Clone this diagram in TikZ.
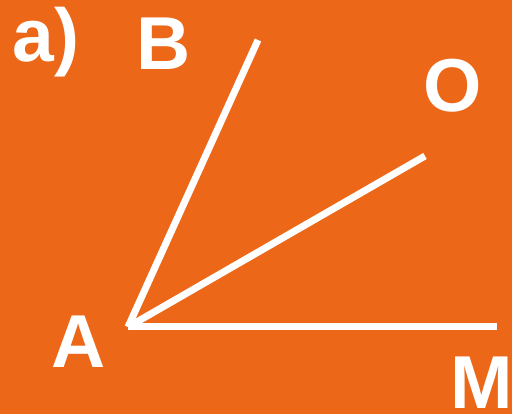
\documentclass[tikz,border=0pt]{standalone}
\usepackage{fontspec}
\setmainfont{Liberation Sans}
\definecolor{bgorange}{RGB}{236,103,23}
\begin{document}
\begin{tikzpicture}[x=1pt,y=-1pt,
  ray/.style={draw=white,line width=7pt},
  lbl/.style={text=white,inner sep=0pt,anchor=base,font=\fontsize{75}{75}\selectfont\bfseries}]
\fill[bgorange] (0,0) rectangle (512,414);
\useasboundingbox (0,0) rectangle (512,414);
\coordinate (A) at (128,327);
\coordinate (Bend) at (258,40);
\coordinate (Oend) at (425,156);
\coordinate (Mend) at (497,327);
\draw[ray] (A) -- (Bend);
\draw[ray] (A) -- (Oend);
\draw[ray] (A) -- (Mend);
\node[lbl] (la) at (46,62) {a)};
\node[lbl] (lB) at (164,70) {B};
\node[lbl] (lO) at (453,112) {O};
\node[lbl] (lA) at (79,367) {A};
\node[lbl] (lM) at (482,408) {M};
\end{tikzpicture}
\end{document}
